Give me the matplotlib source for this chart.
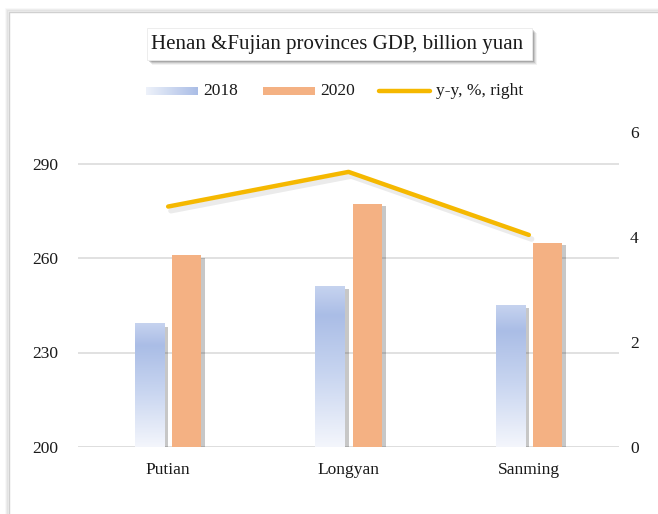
import matplotlib
matplotlib.use("Agg")
import matplotlib.pyplot as plt
import numpy as np
from matplotlib.patches import Rectangle
from matplotlib.colors import LinearSegmentedColormap
import matplotlib.patheffects as pe

categories = ["Putian", "Longyan", "Sanming"]
gdp_2018 = [239.1, 250.9, 244.9]
gdp_2020 = [260.8, 277.3, 264.9]
yy_pct = [4.58, 5.24, 4.04]
series_names = ["2018", "2020", "y-y, %, right"]
title = "Henan &Fujian provinces GDP, billion yuan"
left_ticks = [200, 230, 260, 290]
right_ticks = [0, 2, 4, 6]

W, H = 658, 514
plt.rcParams['font.family'] = ['Liberation Serif', 'DejaVu Serif']
TXT = "#1a1a1a"
ORANGE = "#F4B183"
GOLD = "#F5B800"
GRID = "#DEDEDE"

fig = plt.figure(figsize=(W / 100, H / 100), dpi=100)
fig.patch.set_facecolor("white")

def fx(x):
    return x / W

def fy(y):
    return (H - y) / H

# outer frame with soft shadow
for i, a in enumerate([0.03, 0.05, 0.08]):
    off = 3 - i
    fig.patches.append(Rectangle((fx(9 - off), fy(H + 5)), fx(W + 10), (H + 5 - 12 + off) / H,
                                 transform=fig.transFigure, fill=False,
                                 edgecolor="black", alpha=a, lw=1.2, zorder=0))
fig.patches.append(Rectangle((fx(9), fy(H + 5)), fx(W + 10), (H + 5 - 12) / H,
                             transform=fig.transFigure, fill=False,
                             edgecolor="#D0D0D0", lw=1.0, zorder=1))

# title box with shadow
tb_x0, tb_y0, tb_x1, tb_y1 = 147, 28, 532, 60
for i, a in enumerate([0.05, 0.08, 0.11, 0.15]):
    off = 5 - i
    fig.patches.append(Rectangle((fx(tb_x0 + off), fy(tb_y1 + off)), fx(tb_x1 - tb_x0),
                                 (tb_y1 - tb_y0) / H, transform=fig.transFigure,
                                 facecolor="black", edgecolor="none", alpha=a, zorder=2))
fig.patches.append(Rectangle((fx(tb_x0), fy(tb_y1)), fx(tb_x1 - tb_x0), (tb_y1 - tb_y0) / H,
                             transform=fig.transFigure, facecolor="white",
                             edgecolor="#EAEAEA", lw=0.6, zorder=3))
fig.text(fx((tb_x0 + tb_x1) / 2 - 2), fy(45), title, ha="center", va="center",
         fontsize=15, color=TXT, zorder=4)

# gradient colormap for 2018 bars (top -> bottom)
grad_cmap = LinearSegmentedColormap.from_list(
    "g", [(0.0, "#C6D3EF"), (0.18, "#AABDE6"), (0.55, "#C8D5F0"), (1.0, "#F4F6FC")])

# main axes
ax = fig.add_axes([fx(78), fy(447), fx(619 - 78), (447 - 132) / H])
ax.set_xlim(-0.5, 2.5)
ax.set_ylim(200, 300)
x = np.arange(len(categories))
bw = 0.161
offs = 0.103

ax.set_yticks(left_ticks)
ax.yaxis.grid(True, color=GRID, lw=1.3)
ax.set_axisbelow(True)
for s in ax.spines.values():
    s.set_visible(False)
ax.tick_params(axis="both", length=0, labelsize=12.5, colors=TXT)
ax.tick_params(axis="y", pad=14)
ax.tick_params(axis="x", pad=11)
ax.set_xticks(x)
ax.set_xticklabels(categories)

shadow = [pe.SimplePatchShadow(offset=(3, -2), shadow_rgbFace="black", alpha=0.22), pe.Normal()]

bars18 = ax.bar(x - offs, gdp_2018, bw, bottom=0, color="none", edgecolor="none", zorder=2)
bars20 = ax.bar(x + offs, gdp_2020, bw, bottom=0, color=ORANGE, edgecolor="none", zorder=2,
                path_effects=shadow)
grad = np.linspace(0, 1, 256).reshape(-1, 1)
for b, v in zip(bars18, gdp_2018):
    bx = b.get_x()
    sh = Rectangle((bx, 200), bw, v - 200, facecolor="black", edgecolor="none", alpha=0.0,
                   zorder=1.9, path_effects=[pe.SimplePatchShadow(offset=(3, -2), shadow_rgbFace="black", alpha=0.22)])
    ax.add_patch(sh)
    ax.imshow(grad, cmap=grad_cmap, aspect="auto", extent=(bx, bx + bw, 200, v),
              zorder=2.1, interpolation="bicubic")
ax.set_xlim(-0.5, 2.5)
ax.set_ylim(200, 300)

# bottom axis line
ax.axhline(200, color=GRID, lw=1.3, zorder=1.5)

# right axis
ax2 = ax.twinx()
ax2.set_ylim(0, 6)
ax2.set_yticks(right_ticks)
for s in ax2.spines.values():
    s.set_visible(False)
ax2.tick_params(axis="y", length=0, labelsize=12.5, colors=TXT, pad=8)
ax2.plot(x, yy_pct, color=GOLD, lw=3.2, solid_capstyle="round", zorder=5,
         path_effects=[pe.SimpleLineShadow(offset=(2, -3), shadow_color="black", alpha=0.08, linewidth=4), pe.Normal()])

# legend (manual)
ly = 91
lax = fig.add_axes([fx(146), fy(95), fx(52), 8 / H])
lax.imshow(np.linspace(0, 1, 256).reshape(1, -1), cmap=LinearSegmentedColormap.from_list(
    "lg", ["#EEF2FA", "#AABDE6"]), aspect="auto")
lax.axis("off")
fig.text(fx(203), fy(ly), series_names[0], ha="left", va="center", fontsize=12.5, color=TXT)
fig.patches.append(Rectangle((fx(263), fy(95)), fx(52), 8 / H, transform=fig.transFigure,
                             facecolor=ORANGE, edgecolor="none"))
fig.text(fx(320), fy(ly), series_names[1], ha="left", va="center", fontsize=12.5, color=TXT)
fig.lines.append(plt.Line2D([fx(379), fx(430)], [fy(ly), fy(ly)], transform=fig.transFigure,
                            color=GOLD, lw=3.2, solid_capstyle="round"))
fig.text(fx(436), fy(ly), series_names[2], ha="left", va="center", fontsize=12.5, color=TXT)

fig.savefig("out.png", dpi=100)
